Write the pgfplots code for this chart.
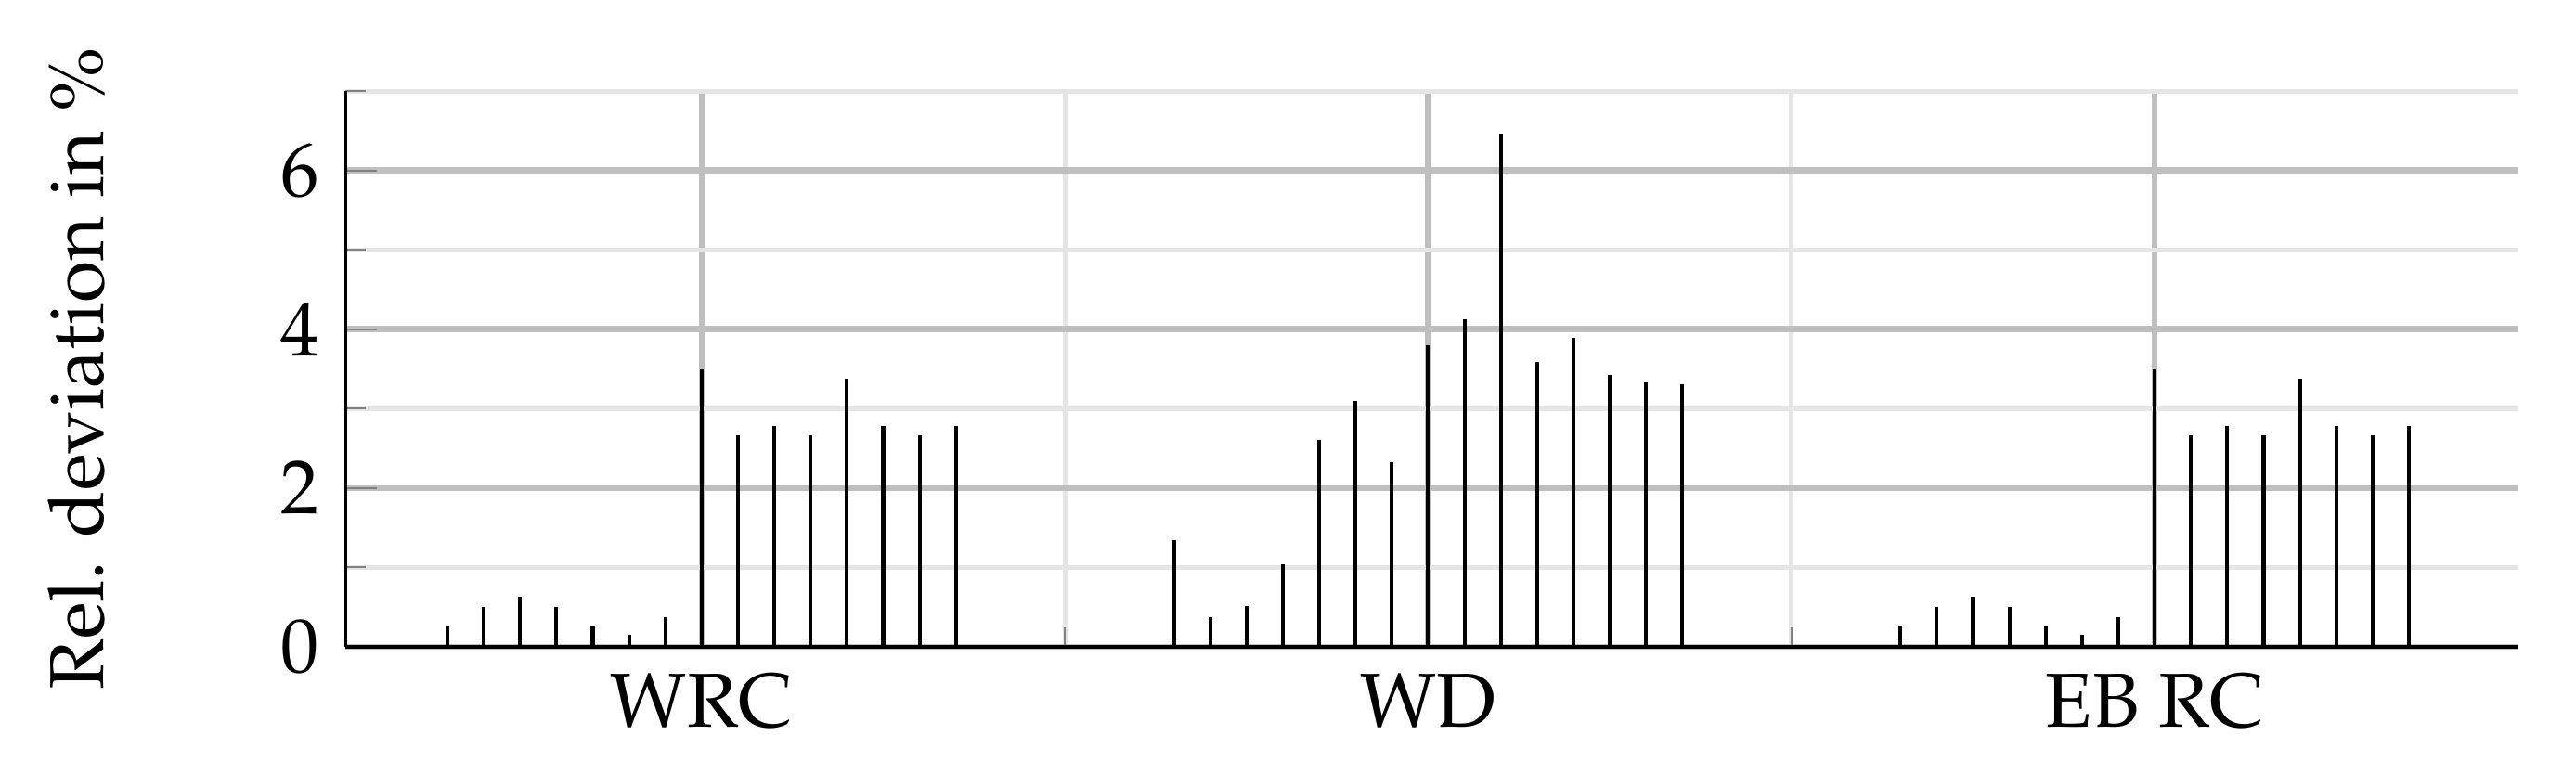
\documentclass[border=0pt]{standalone}
\usepackage[T1]{fontenc}
\usepackage{mathpazo}
\usepackage{pgfplots}
\pgfplotsset{compat=1.18}

\begin{document}
\begin{tikzpicture}
\useasboundingbox (-45.2pt,-16.6pt) rectangle (291.6pt,84.6pt);
\begin{axis}[
    scale only axis,
    width=284pt, height=72.7pt,
    xmin=0.2, xmax=60,
    ymin=0, ymax=7,
    axis x line*=bottom, axis y line*=left,
    axis line style={-, black, line width=0.4pt},
    xtick={10,30,50},
    xticklabels={WRC,WD,EB RC},
    minor xtick={20,40},
    ytick={0,2,4,6},
    minor ytick={1,3,5,7},
    xmajorgrids, xminorgrids, ymajorgrids, yminorgrids,
    major grid style={black!25, line width=0.8pt},
    minor grid style={black!10, line width=0.6pt},
    tick style={gray, line width=0.25pt},
    major tick length=4.1pt, minor tick length=2.6pt,
    tick align=inside,
    ylabel={Rel. deviation in \%},
    ylabel style={at={(axis description cs:-0.1116,0.5)}, anchor=base},
]

% WRC
\addplot[ycomb, black, line width=0.5pt, mark=none] coordinates {
(3,0.27)(4,0.50)(5,0.63)(6,0.50)(7,0.27)(8,0.15)(9,0.38)
(10,3.49)(11,2.66)(12,2.78)(13,2.66)(14,3.38)(15,2.78)(16,2.66)(17,2.78)
};

% WD
\addplot[ycomb, black, line width=0.5pt, mark=none] coordinates {
(23,1.34)(24,0.37)(25,0.52)(26,1.04)(27,2.61)(28,3.10)(29,2.33)
(30,3.80)(31,4.13)(32,6.46)(33,3.59)(34,3.89)(35,3.42)(36,3.33)(37,3.31)
};

% EB RC
\addplot[ycomb, black, line width=0.5pt, mark=none] coordinates {
(43,0.27)(44,0.50)(45,0.63)(46,0.50)(47,0.27)(48,0.15)(49,0.38)
(50,3.49)(51,2.66)(52,2.78)(53,2.66)(54,3.38)(55,2.78)(56,2.66)(57,2.78)
};

\end{axis}
\end{tikzpicture}
\end{document}
